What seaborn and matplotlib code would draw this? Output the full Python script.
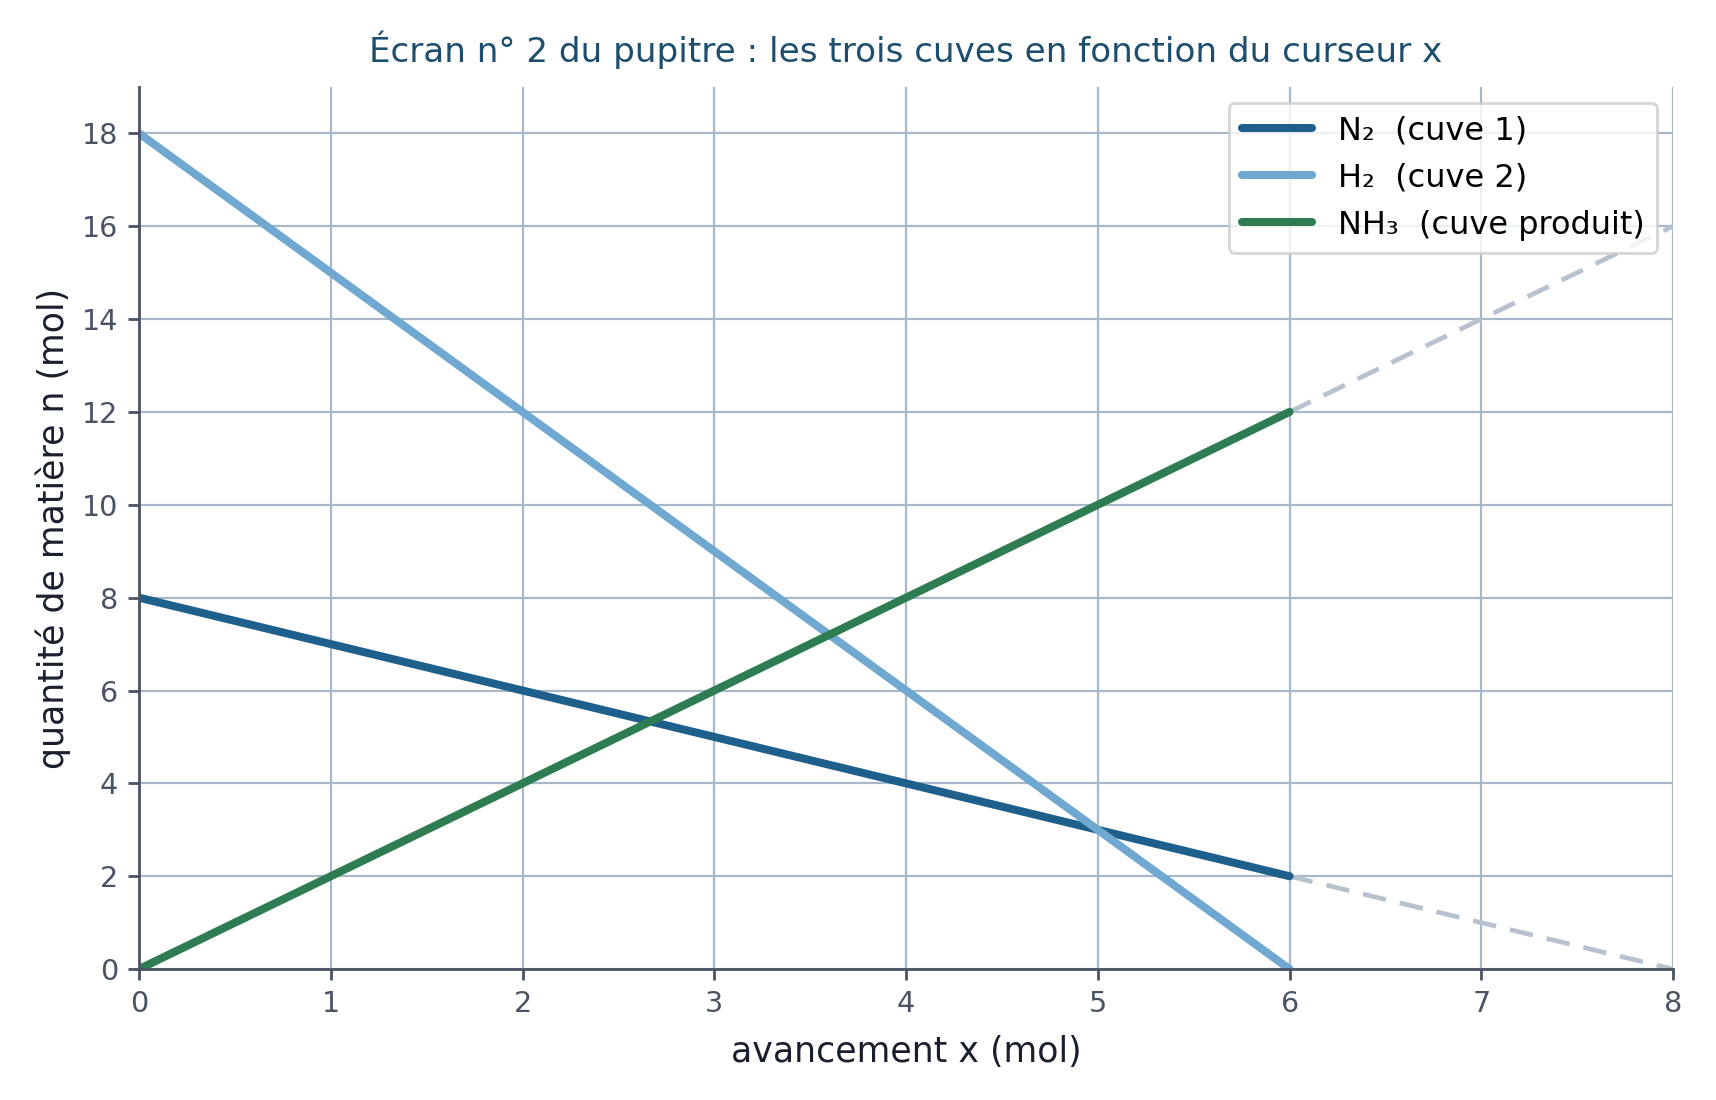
import matplotlib
matplotlib.use("Agg")
import matplotlib.pyplot as plt
import seaborn as sns
import pandas as pd

x_main = [0, 6]
n2_main = [8, 2]
h2_main = [18, 0]
nh3_main = [0, 12]
x_ext = [6, 8]
n2_ext = [2, 0]
nh3_ext = [12, 16]

labels = ["N\u2082  (cuve 1)", "H\u2082  (cuve 2)", "NH\u2083  (cuve produit)"]
colors = ["#1f5f8b", "#6fa8d0", "#2e7d52"]

sns.set_theme(style="white")
plt.rcParams['font.family'] = ['DejaVu Sans']

fig = plt.figure(figsize=(8.58, 5.5), dpi=200)
ax = fig.add_axes([0.081, 0.119, 0.894, 0.802])

grid_c = "#a9b8c8"
ax.set_axisbelow(True)
ax.grid(True, color=grid_c, linewidth=0.8)

sns.lineplot(x=x_ext, y=n2_ext, ax=ax, color="#b8c2cf", linewidth=1.7, linestyle=(0, (5, 3)))
sns.lineplot(x=x_ext, y=nh3_ext, ax=ax, color="#b8c2cf", linewidth=1.7, linestyle=(0, (5, 3)))
for y, lab, c in zip([n2_main, h2_main, nh3_main], labels, colors):
    sns.lineplot(x=x_main, y=y, ax=ax, color=c, linewidth=2.9, label=lab)

ax.set_xlim(0, 8)
ax.set_ylim(0, 19)
ax.set_xticks(range(0, 9))
ax.set_yticks(range(0, 19, 2))

spine_c = "#4a5263"
for s in ["top", "right"]:
    ax.spines[s].set_visible(False)
for s in ["left", "bottom"]:
    ax.spines[s].set_color(spine_c)
    ax.spines[s].set_linewidth(1.0)
ax.tick_params(axis="both", colors=spine_c, labelsize=10.3, length=4, width=1.0, direction="out",
               bottom=True, left=True)

ax.set_xlabel("avancement x (mol)", fontsize=12.5, color="#1a1f2e", labelpad=6)
ax.set_ylabel("quantité de matière n (mol)", fontsize=12.5, color="#1a1f2e")
ax.set_title("Écran n° 2 du pupitre : les trois cuves en fonction du curseur x",
             fontsize=12.3, color="#1d4e6e", pad=9)

leg = ax.legend(loc="upper right", fontsize=11.5, frameon=True, handlelength=2.2)
leg.get_frame().set_edgecolor("#cccccc")
leg.get_frame().set_linewidth(1.0)
for t in leg.get_texts():
    t.set_color("black")

fig.savefig("out.png", dpi=200)
